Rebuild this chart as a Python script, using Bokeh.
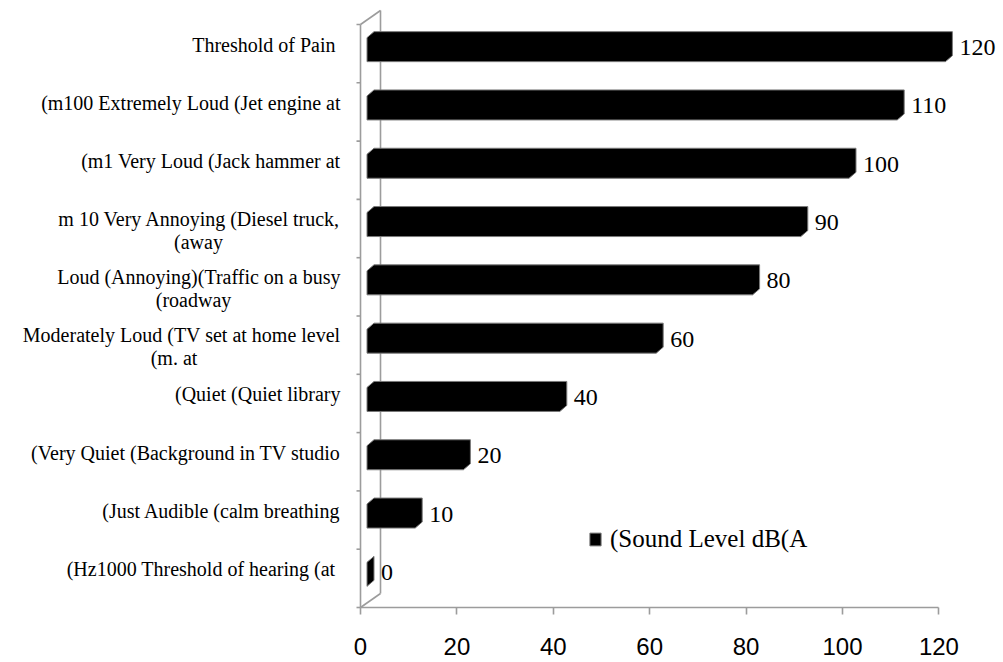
from bokeh.plotting import figure
from bokeh.models import Legend, LegendItem, FixedTicker, ColumnDataSource
from bokeh.core.properties import value
from bokeh.embed import file_html
from bokeh.resources import INLINE

# ---------------- data (bottom to top) ----------------
categories = [
    "(Hz1000 Threshold of  hearing (at",
    "(Just Audible (calm breathing",
    "(Very Quiet (Background in TV studio",
    "(Quiet (Quiet library",
    "Moderately Loud (TV set at home level\n(m.  at",
    "Loud (Annoying)(Traffic on a busy\n(roadway",
    "m 10 Very Annoying (Diesel truck,\n(away",
    "(m1 Very Loud (Jack hammer at",
    "(m100 Extremely Loud (Jet engine at",
    "Threshold of  Pain",
]
sound_level = [0, 10, 20, 40, 60, 80, 90, 100, 110, 120]
x_ticks = [0, 20, 40, 60, 80, 100, 120]
series_name = "(Sound Level dB(A"

# ---------------- layout (pixels) ----------------
W, H = 1002, 660
XSCALE = 4.82          # px per data unit along x
YSCALE = 58.3          # px per category
X0_PAGE = 360          # page x of value 0
BOTTOM_PAGE = 607      # page y of the category axis bottom (-0.5)
TOP_BOUND_PAGE = 24    # page y of the top category boundary

def px_x(px):
    return px / XSCALE

def px_y(px):
    return px / YSCALE

n = len(categories)
x_start = px_x(0 - X0_PAGE)
x_end = px_x(W - X0_PAGE)
y_start = -0.5 - px_y(H - BOTTOM_PAGE)
y_end = n - 0.5 + px_y(TOP_BOUND_PAGE)

p = figure(width=W, height=H, output_backend="svg", toolbar_location=None,
           x_range=(x_start, x_end), y_range=(y_start, y_end),
           y_axis_location=None, min_border_left=0, min_border_right=0,
           min_border_top=0, min_border_bottom=0)
p.outline_line_color = None
p.xgrid.visible = False
p.ygrid.visible = False
p.background_fill_color = "white"
p.border_fill_color = "white"

GRAY = "#9c9c9c"

# x axis (drawn at the floor front edge)
ax = p.xaxis[0]
ax.fixed_location = -0.5
ax.ticker = FixedTicker(ticks=x_ticks)
ax.bounds = (0, 120)
ax.axis_line_color = GRAY
ax.axis_line_width = 1.6
ax.major_tick_line_color = GRAY
ax.major_tick_line_width = 1.6
ax.major_tick_out = 7
ax.major_tick_in = 0
ax.minor_tick_line_color = None
ax.major_label_text_font = "Liberation Sans"
ax.major_label_text_font_size = "24px"
ax.major_label_text_color = "black"
ax.major_label_standoff = 23

# 3D wall lines
bx = px_x(20)
by = px_y(14)
wall_xs = [[0, 0], [0, bx], [bx, bx], [0, bx]]
wall_ys = [[-0.5, n - 0.5], [n - 0.5, n - 0.5 + by], [n - 0.5 + by, -0.5 + by], [-0.5, -0.5 + by]]
p.multi_line(xs=wall_xs, ys=wall_ys, line_color=GRAY, line_width=1.6)

# category ticks on left of front wall line
tick_y = [k + 0.5 for k in range(-1, n)]
p.segment(x0=[px_x(-4)] * len(tick_y), y0=tick_y, x1=[0] * len(tick_y), y1=tick_y,
          line_color=GRAY, line_width=1.6)

# 3D bars as hexagon silhouettes
off = px_x(6.5)
dx = px_x(7)
dy = px_y(6)
bar_xs, bar_ys = [], []
for i, v in enumerate(sound_level):
    yb = i - px_y(8)
    yt = i + px_y(16)
    bar_xs.append([off, off, off + dx, off + v + dx, off + v + dx, off + v])
    bar_ys.append([yb, yt, yt + dy, yt + dy, yb + dy, yb])
bars = p.patches(xs=bar_xs, ys=bar_ys, fill_color="black", line_color="#7a7a7a", line_width=1)

# value labels
lab_src = ColumnDataSource(dict(
    x=[off + v + dx + px_x(7) for v in sound_level],
    y=[i + px_y(6) for i in range(n)],
    t=[str(v) for v in sound_level]))
p.text(x="x", y="y", text="t", source=lab_src, text_font=value("Liberation Serif"),
       text_font_size=value("24px"), text_baseline="middle", text_align="left", text_color="black")

# category labels
RIGHT_PAGE = 340
second_line_center_page = {4: 176, 5: 193, 6: 198}
r_x, r_y, r_t = [], [], []
c_x, c_y, c_t = [], [], []
for i, lab in enumerate(categories):
    parts = lab.split("\n")
    r_x.append(px_x(RIGHT_PAGE - X0_PAGE))
    r_t.append(parts[0])
    if len(parts) == 1:
        r_y.append(i + px_y(9))
    else:
        r_y.append(i + px_y(10))
        c_x.append(px_x(second_line_center_page[i] - X0_PAGE))
        c_y.append(i + px_y(10) - px_y(23))
        c_t.append(parts[1])
p.text(x=r_x, y=r_y, text=r_t, text_font=value("Liberation Serif"), text_font_size=value("20px"),
       text_baseline="middle", text_align="right", text_color="black")
p.text(x=c_x, y=c_y, text=c_t, text_font=value("Liberation Serif"), text_font_size=value("20px"),
       text_baseline="middle", text_align="center", text_color="black")

# legend
legend = Legend(items=[LegendItem(label=series_name, renderers=[bars])],
                location=(588, 107), padding=0, margin=0, spacing=0,
                glyph_width=14, glyph_height=16, label_standoff=8,
                label_text_font="Liberation Serif", label_text_font_size="25px",
                label_text_color="black",
                border_line_alpha=0, background_fill_alpha=0)
p.add_layout(legend, "center")

open("out.html", "w").write(file_html(p, INLINE))
